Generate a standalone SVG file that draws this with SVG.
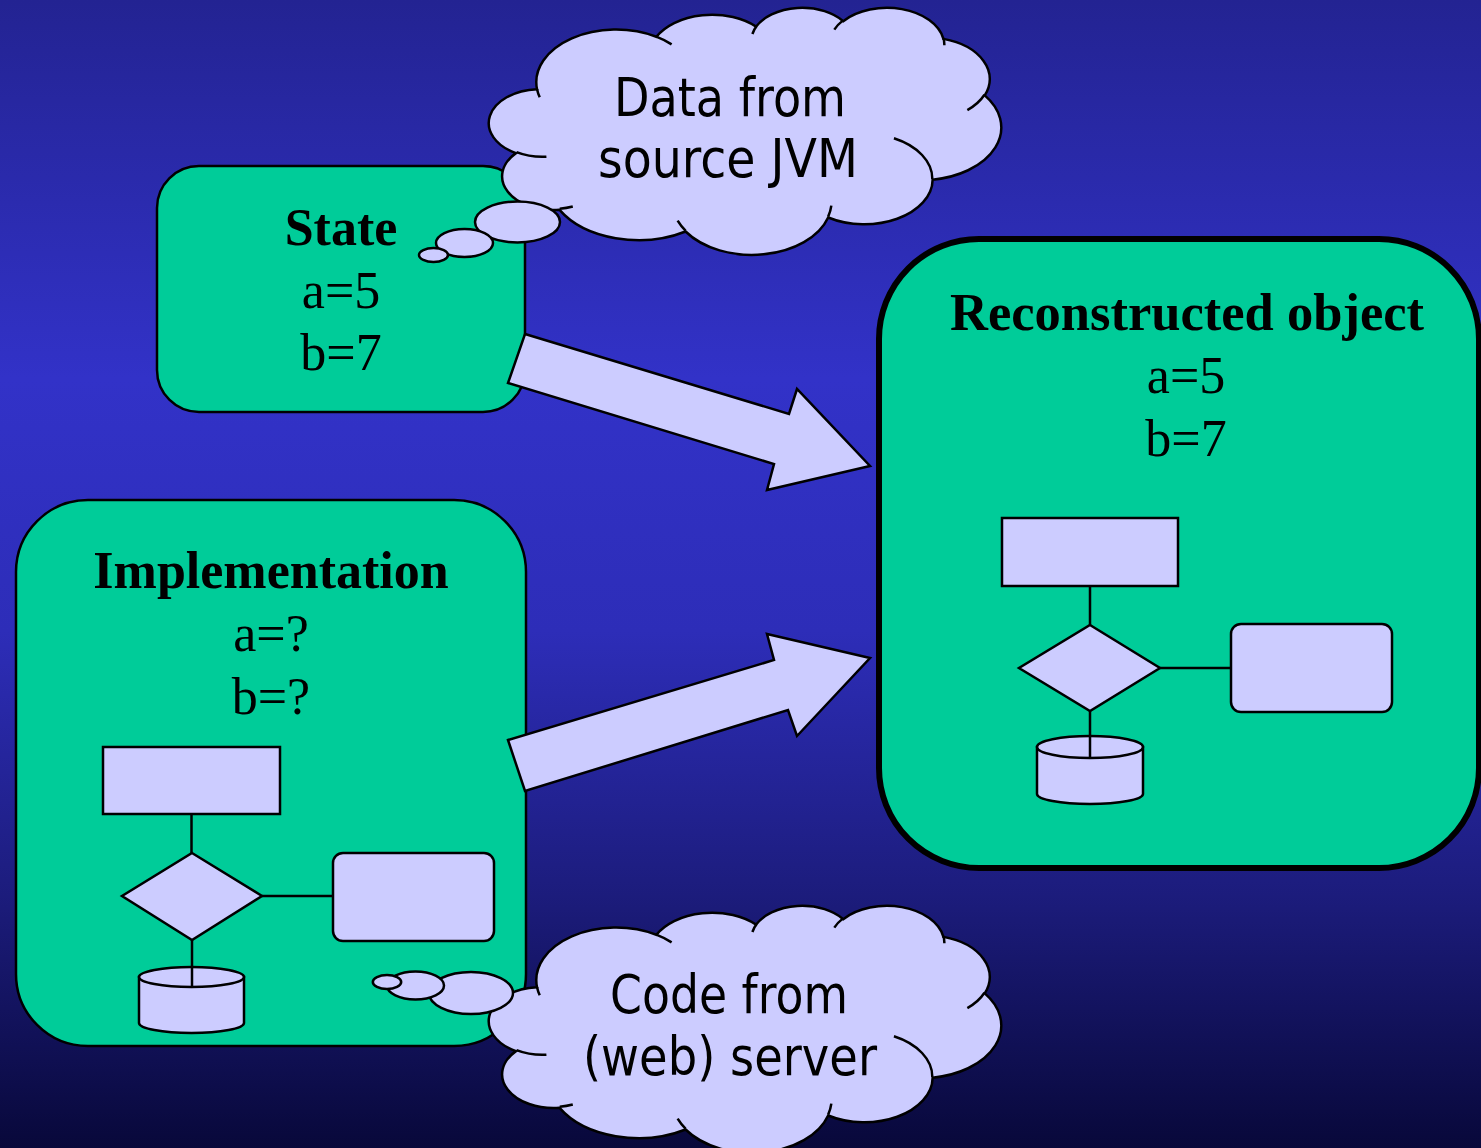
<svg xmlns="http://www.w3.org/2000/svg" xmlns:xlink="http://www.w3.org/1999/xlink" width="1481" height="1148" viewBox="0 0 1481 1148">
  <style>
    .box { fill: #00CC99; stroke: #000; stroke-width: 2.5; }
    .box-strong { fill: #00CC99; stroke: #000; stroke-width: 6; }
    .shape { fill: #CCCCFF; stroke: #000; stroke-width: 2.5; stroke-linejoin: miter; }
    .link { fill: none; stroke: #000; stroke-width: 2.5; }
    .title { font-family: "Liberation Serif", "Times New Roman", serif; font-size: 52px; font-weight: bold; text-anchor: middle; fill: #000; }
    .val { font-family: "Liberation Serif", "Times New Roman", serif; font-size: 52px; text-anchor: middle; fill: #000; }
    .cloud-text { font-family: "DejaVu Sans", Verdana, sans-serif; font-size: 53px; text-anchor: middle; fill: #000; }
  </style>
  <defs>
    <linearGradient id="bg" x1="0" y1="0" x2="0" y2="1">
      <stop offset="0" stop-color="#232392"/>
      <stop offset="0.33" stop-color="#3232C8"/>
      <stop offset="0.55" stop-color="#2D2DB8"/>
      <stop offset="0.78" stop-color="#1C1C7C"/>
      <stop offset="1" stop-color="#08083A"/>
    </linearGradient>
    <!-- cloud callout body: outline plus the inner bump arcs -->
    <g id="cloud">
      <path class="shape" d="M537.04,89.17 A79.73,52.55 0 0 1 656.36,36.75 A62.96,41.55 0 0 1 756.14,26.62 A51.53,33.99 0 0 1 843.24,21.18 A57.34,37.71 0 0 1 943.42,38.88 A62.96,41.59 0 0 1 984.74,95.39 A79.99,52.72 0 0 1 932.63,179.69 A68.30,44.98 0 0 1 828.16,217.49 A79.71,52.69 0 0 1 685.60,231.51 A91.14,60.28 0 0 1 559.57,209.84 A51.47,33.84 0 0 1 515.98,153.12 A51.30,33.99 0 0 1 537.04,89.17 Z"/>
      <path class="link" d="M546.41,156.68 A51.30,33.99 0 0 1 516.50,152.12 M572.79,206.55 A51.47,33.84 0 0 1 559.71,208.73 M685.54,230.52 A79.71,52.69 0 0 1 677.64,220.55 M831.33,205.71 A79.71,52.69 0 0 1 828.18,216.62 M893.93,138.25 A68.30,44.98 0 0 1 932.31,179.05 M984.47,94.79 A62.96,41.59 0 0 1 967.36,110.10 M943.45,38.03 A57.34,37.71 0 0 1 944.35,45.25 M834.30,29.60 A57.34,37.71 0 0 1 843.05,20.38 M752.40,33.99 A51.53,33.99 0 0 1 756.63,26.05 M656.28,36.69 A79.73,52.55 0 0 1 671.61,44.39 M539.72,97.28 A79.73,52.55 0 0 1 537.05,89.18"/>
    </g>
  </defs>

  <rect x="0" y="0" width="1481" height="1148" fill="url(#bg)"/>

  <!-- State node -->
  <g id="state">
    <rect class="box" x="157" y="166" width="368" height="246" rx="42" ry="42"/>
    <text class="title" x="341" y="245">State</text>
    <text class="val" x="341" y="308">a=5</text>
    <text class="val" x="341" y="370">b=7</text>
  </g>

  <!-- Implementation node with its small flowchart -->
  <g id="implementation">
    <rect class="box" x="16" y="500" width="510" height="546" rx="72" ry="72"/>
    <text class="title" x="271" y="588">Implementation</text>
    <text class="val" x="271" y="651">a=?</text>
    <text class="val" x="271" y="714">b=?</text>
    <rect class="shape" x="103" y="747" width="177" height="67"/>
    <polygon class="shape" points="192,853 262,896 192,940 122,896"/>
    <rect class="shape" x="333" y="853" width="161" height="88" rx="10" ry="10"/>
    <path class="shape" d="M139,977 L139,1023 A52.5,10 0 0 0 244,1023 L244,977 Z"/>
    <ellipse class="shape" cx="191.5" cy="977" rx="52.5" ry="10"/>
    <path class="link" d="M191.5,814 V853 M262,896 H333 M192,940 V987"/>
  </g>

  <!-- Reconstructed object node with its small flowchart -->
  <g id="reconstructed">
    <rect class="box-strong" x="879" y="239" width="600" height="629" rx="100" ry="100"/>
    <text class="title" x="1187" y="330" textLength="474" lengthAdjust="spacingAndGlyphs">Reconstructed object</text>
    <text class="val" x="1186" y="393">a=5</text>
    <text class="val" x="1186" y="456">b=7</text>
    <rect class="shape" x="1002" y="518" width="176" height="68"/>
    <polygon class="shape" points="1090,625 1160,668 1090,711 1019,668"/>
    <rect class="shape" x="1231" y="624" width="161" height="88" rx="10" ry="10"/>
    <path class="shape" d="M1037,747 L1037,794 A53,10 0 0 0 1143,794 L1143,747 Z"/>
    <ellipse class="shape" cx="1090" cy="747" rx="53" ry="11"/>
    <path class="link" d="M1090,586 V625 M1160,668 H1231 M1090,711 V758"/>
  </g>

  <!-- block arrows -->
  <g id="connectors">
    <polygon class="shape" points="525,334 789,414 797,389 870,466 767,490 774,464 508,383"/>
    <polygon class="shape" points="508,740 774,660 767,634 870,658 797,736 788,710 525,791"/>
  </g>

  <!-- thought cloud above the State node -->
  <g id="cloud-data">
    <use xlink:href="#cloud" href="#cloud"/>
    <ellipse class="shape" cx="517.5" cy="222" rx="42.5" ry="20.5"/>
    <ellipse class="shape" cx="464.5" cy="243" rx="28.5" ry="14"/>
    <ellipse class="shape" cx="433.5" cy="255" rx="14.5" ry="7"/>
    <text class="cloud-text" x="730" y="116" textLength="232" lengthAdjust="spacingAndGlyphs">Data from</text>
    <text class="cloud-text" x="728" y="177" textLength="260" lengthAdjust="spacingAndGlyphs">source JVM</text>
  </g>

  <!-- thought cloud beside the Implementation node -->
  <g id="cloud-code">
    <use xlink:href="#cloud" href="#cloud" y="898"/>
    <ellipse class="shape" cx="471" cy="993" rx="42" ry="21"/>
    <ellipse class="shape" cx="415.5" cy="985.5" rx="28.5" ry="14"/>
    <ellipse class="shape" cx="387" cy="982" rx="14.2" ry="7"/>
    <text class="cloud-text" x="729" y="1013" textLength="238" lengthAdjust="spacingAndGlyphs">Code from</text>
    <text class="cloud-text" x="730" y="1075" textLength="294" lengthAdjust="spacingAndGlyphs">(web) server</text>
  </g>
</svg>
